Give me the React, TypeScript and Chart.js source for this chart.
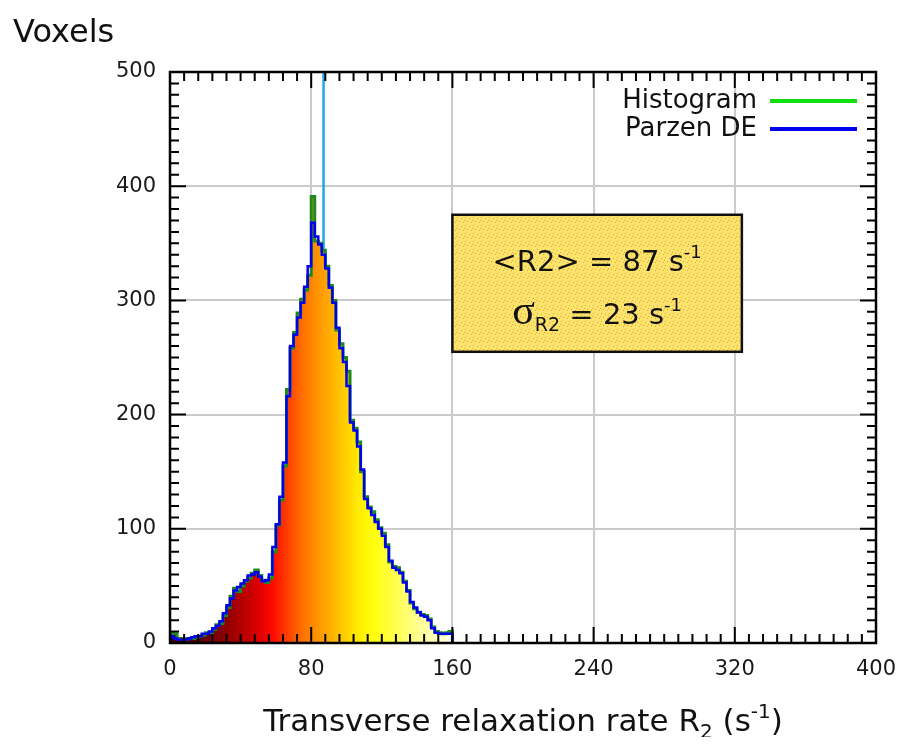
import React, { useEffect, useRef } from 'react';
import { Chart, registerables } from 'chart.js';

Chart.register(...registerables);

// ---------- data ----------
const R2_BIN_START = [
  0, 2, 4, 6, 8, 10, 12, 14, 16, 18, 20, 22, 24, 26, 28, 30, 32, 34, 36, 38,
  40, 42, 44, 46, 48, 50, 52, 54, 56, 58, 60, 62, 64, 66, 68, 70, 72, 74, 76, 78,
  80, 82, 84, 86, 88, 90, 92, 94, 96, 98, 100, 102, 104, 106, 108, 110, 112, 114, 116, 118,
  120, 122, 124, 126, 128, 130, 132, 134, 136, 138, 140, 142, 144, 146, 148, 150, 152, 154, 156, 158,
];
const R2_RANGE_END = 160;

const HISTOGRAM_COUNTS = [
  9, 8, 4, 4, 3, 4, 4, 5, 6, 7, 9, 9, 12, 16, 17, 24, 31, 41, 48, 45,
  50, 54, 57, 61, 64, 59, 55, 53, 57, 80, 103, 125, 155, 222, 258, 272, 289, 301, 309, 322,
  391, 352, 350, 344, 330, 313, 300, 274, 262, 250, 238, 195, 188, 176, 150, 128, 119, 115, 108, 101,
  96, 86, 71, 67, 66, 62, 54, 46, 35, 30, 27, 25, 24, 21, 14, 10, 9, 8, 9, 10,
];

const PARZEN_DENSITY = [
  6, 4, 3, 3, 3, 4, 5, 6, 6, 8, 8, 10, 13, 15, 19, 26, 33, 39, 46, 49,
  52, 55, 59, 60, 62, 58, 54, 55, 60, 84, 104, 128, 158, 216, 260, 270, 285, 298, 312, 330,
  368, 356, 349, 340, 328, 311, 298, 276, 258, 246, 225, 193, 186, 172, 152, 126, 118, 112, 106, 100,
  94, 84, 72, 66, 64, 61, 53, 45, 36, 31, 27, 24, 23, 20, 13, 9, 8, 8, 8, 8,
];

const MEAN_R2 = 87;
const SIGMA_R2 = 23;

const X_TICK_LABELS = ['0', '80', '160', '240', '320', '400'];
const Y_TICK_LABELS = ['0', '100', '200', '300', '400', '500'];
const LEGEND_LABELS = ['Histogram', 'Parzen DE'];

// ---------- styles / layout ----------
const FONT = '"DejaVu Sans", "Liberation Sans", sans-serif';
const SERIF = '"Liberation Serif", "DejaVu Serif", serif';
const X_MINOR_STEP = 8;
const Y_MINOR_STEP = 10;
const MAJOR_LEN = 16;
const MINOR_LEN = 9;
const STATS_BOX = { xMin: 160, xMax: 324, yMin: 255, yMax: 375 };
const FILL_STOPS: [number, string][] = [
  [0, '#3a0000'], [20, '#680000'], [30, '#880000'], [40, '#b00000'], [50, '#dc0000'],
  [58, '#ff0800'], [66, '#ff3c00'], [74, '#ff6a00'], [82, '#ff8e00'], [90, '#ffab00'],
  [100, '#ffd200'], [108, '#fff000'], [116, '#ffff10'], [130, '#ffff5a'], [145, '#ffffa6'],
  [160, '#ffffe6'],
];

type Seg = { t: string; size: number; dy?: number; family?: string };

function drawRich(ctx: CanvasRenderingContext2D, segs: Seg[], x: number, baseline: number, align: 'left' | 'center' | 'right') {
  ctx.textAlign = 'left';
  ctx.textBaseline = 'alphabetic';
  let total = 0;
  for (const s of segs) {
    ctx.font = `${s.size}px ${s.family || FONT}`;
    total += ctx.measureText(s.t).width;
  }
  let cx = align === 'center' ? x - total / 2 : align === 'right' ? x - total : x;
  for (const s of segs) {
    ctx.font = `${s.size}px ${s.family || FONT}`;
    ctx.fillText(s.t, cx, baseline + (s.dy || 0));
    cx += ctx.measureText(s.t).width;
  }
}

function makeDotPattern(ctx: CanvasRenderingContext2D) {
  const c = document.createElement('canvas');
  c.width = 8;
  c.height = 8;
  const p = c.getContext('2d')!;
  p.fillStyle = '#fbe46c';
  p.fillRect(0, 0, 8, 8);
  p.fillStyle = '#f49a3c';
  [[1, 1], [5, 2], [3, 5], [7, 6], [0, 4]].forEach(([a, b]) => p.fillRect(a, b, 1, 1));
  return ctx.createPattern(c, 'repeat') || '#fbe46c';
}

const overlayPlugin = {
  id: 'overlay',
  afterDraw(chart: any) {
    const { ctx, chartArea: a, scales } = chart;
    const xs = scales.x;
    const ys = scales.y;
    ctx.save();

    // ticks on all four sides
    ctx.strokeStyle = '#000';
    ctx.lineWidth = 2;
    ctx.beginPath();
    for (let v = xs.min; v <= xs.max; v += X_MINOR_STEP) {
      const p = xs.getPixelForValue(v);
      const len = v % 80 === 0 ? MAJOR_LEN : MINOR_LEN;
      ctx.moveTo(p, a.bottom); ctx.lineTo(p, a.bottom - len);
      ctx.moveTo(p, a.top); ctx.lineTo(p, a.top + len);
    }
    for (let v = ys.min; v <= ys.max; v += Y_MINOR_STEP) {
      const p = ys.getPixelForValue(v);
      const len = v % 100 === 0 ? MAJOR_LEN : MINOR_LEN;
      ctx.moveTo(a.left, p); ctx.lineTo(a.left + len, p);
      ctx.moveTo(a.right, p); ctx.lineTo(a.right - len, p);
    }
    ctx.stroke();
    ctx.lineWidth = 2.5;
    ctx.strokeRect(a.left, a.top, a.right - a.left, a.bottom - a.top);

    // legend
    const colors = ['#10e010', '#0000ee'];
    LEGEND_LABELS.forEach((lab, i) => {
      const yc = a.top + 29 + i * 28;
      ctx.fillStyle = '#111';
      ctx.font = `26px ${FONT}`;
      ctx.textAlign = 'right';
      ctx.textBaseline = 'middle';
      ctx.fillText(lab, a.right - 119, yc);
      ctx.strokeStyle = colors[i];
      ctx.lineWidth = 4;
      ctx.beginPath();
      ctx.moveTo(a.right - 106, yc);
      ctx.lineTo(a.right - 19, yc);
      ctx.stroke();
    });

    // stats box
    const bx0 = xs.getPixelForValue(STATS_BOX.xMin);
    const bx1 = xs.getPixelForValue(STATS_BOX.xMax);
    const by0 = ys.getPixelForValue(STATS_BOX.yMax);
    const by1 = ys.getPixelForValue(STATS_BOX.yMin);
    ctx.fillStyle = makeDotPattern(ctx);
    ctx.fillRect(bx0, by0, bx1 - bx0, by1 - by0);
    ctx.strokeStyle = '#111';
    ctx.lineWidth = 2.5;
    ctx.strokeRect(bx0, by0, bx1 - bx0, by1 - by0);
    ctx.fillStyle = '#111';
    const bcx = (bx0 + bx1) / 2;
    drawRich(ctx, [
      { t: `<R2> = ${MEAN_R2} s`, size: 29 },
      { t: '-1', size: 18, dy: -13 },
    ], bcx, by0 + 56, 'center');
    drawRich(ctx, [
      { t: 'σ', size: 42, family: SERIF },
      { t: 'R2', size: 19, dy: 7 },
      { t: ` = ${SIGMA_R2} s`, size: 29 },
      { t: '-1', size: 18, dy: -13 },
    ], bcx, by0 + 109, 'center');

    // axis titles
    ctx.fillStyle = '#111';
    drawRich(ctx, [{ t: 'Voxels', size: 32 }], 5, 34, 'left');
    drawRich(ctx, [
      { t: 'Transverse relaxation rate R', size: 31 },
      { t: '2', size: 20, dy: 7 },
      { t: ' (s', size: 31 },
      { t: '-1', size: 20, dy: -13 },
      { t: ')', size: 31 },
    ], (a.left + a.right) / 2, 723, 'center');

    ctx.restore();
  },
};

function stepPoints(values: number[]) {
  const pts = R2_BIN_START.map((x, i) => ({ x, y: values[i] }));
  pts.push({ x: R2_RANGE_END, y: 0 });
  return pts;
}

export default function App() {
  const ref = useRef<HTMLCanvasElement>(null);

  useEffect(() => {
    const canvas = ref.current;
    if (!canvas) return;

    const gradientFill = (c: any) => {
      const chart = c.chart;
      const xs = chart.scales && chart.scales.x;
      if (!chart.chartArea || !xs) return '#ff9000';
      const x0 = xs.getPixelForValue(0);
      const x1 = xs.getPixelForValue(R2_RANGE_END);
      const g = chart.ctx.createLinearGradient(x0, 0, x1, 0);
      FILL_STOPS.forEach(([v, col]) => g.addColorStop(v / R2_RANGE_END, col));
      return g;
    };

    const chart = new Chart(canvas, {
      type: 'line',
      data: {
        datasets: [
          {
            label: 'Parzen DE',
            data: stepPoints(PARZEN_DENSITY),
            stepped: 'before',
            borderColor: '#0000ee',
            borderWidth: 2.5,
            pointRadius: 0,
            fill: false,
            order: 1,
          },
          {
            label: 'Histogram',
            data: stepPoints(HISTOGRAM_COUNTS),
            stepped: 'before',
            borderColor: '#208a20',
            borderWidth: 3,
            pointRadius: 0,
            fill: 'origin',
            backgroundColor: gradientFill,
            order: 2,
          },
          {
            label: 'mean',
            data: [{ x: MEAN_R2, y: 0 }, { x: MEAN_R2, y: 500 }],
            borderColor: '#22a6e4',
            borderWidth: 2.5,
            pointRadius: 0,
            fill: false,
            order: 3,
          },
        ],
      } as any,
      options: {
        responsive: false,
        animation: false,
        devicePixelRatio: 1,
        layout: { padding: { left: 0, top: 64, right: 19, bottom: 0 } },
        plugins: { legend: { display: false }, tooltip: { enabled: false }, title: { display: false } },
        scales: {
          x: {
            type: 'linear',
            min: 0,
            max: 400,
            afterBuildTicks: (s: any) => { s.ticks = X_TICK_LABELS.map((l) => ({ value: Number(l) })); },
            afterFit: (s: any) => { s.height = 94; s.paddingLeft = 0; s.paddingRight = 0; },
            border: { display: false },
            grid: {
              drawTicks: false,
              lineWidth: 2,
              color: (c: any) => (c.tick && (c.tick.value === 0 || c.tick.value === 400) ? 'rgba(0,0,0,0)' : '#cbcbcb'),
            },
            ticks: {
              font: { family: FONT, size: 21 },
              color: '#1a1a1a',
              padding: 14,
              maxRotation: 0,
              autoSkip: false,
              callback: (v: any) => String(v),
            },
          },
          y: {
            type: 'linear',
            min: 0,
            max: 500,
            afterBuildTicks: (s: any) => { s.ticks = Y_TICK_LABELS.map((l) => ({ value: Number(l) })); },
            afterFit: (s: any) => { s.width = 162; s.paddingTop = 0; s.paddingBottom = 0; },
            border: { display: false },
            grid: {
              drawTicks: false,
              lineWidth: 2,
              color: (c: any) => (c.tick && (c.tick.value === 0 || c.tick.value === 500) ? 'rgba(0,0,0,0)' : '#cbcbcb'),
            },
            ticks: {
              font: { family: FONT, size: 21 },
              color: '#1a1a1a',
              padding: 14,
              autoSkip: false,
              callback: (v: any) => String(v),
            },
          },
        },
      } as any,
      plugins: [overlayPlugin],
    });

    return () => chart.destroy();
  }, []);

  return (
    <div style={{ width: 887, height: 729, position: 'relative' }}>
      <canvas ref={ref} width={887} height={729} style={{ display: 'block', width: 887, height: 729 }} />
    </div>
  );
}
